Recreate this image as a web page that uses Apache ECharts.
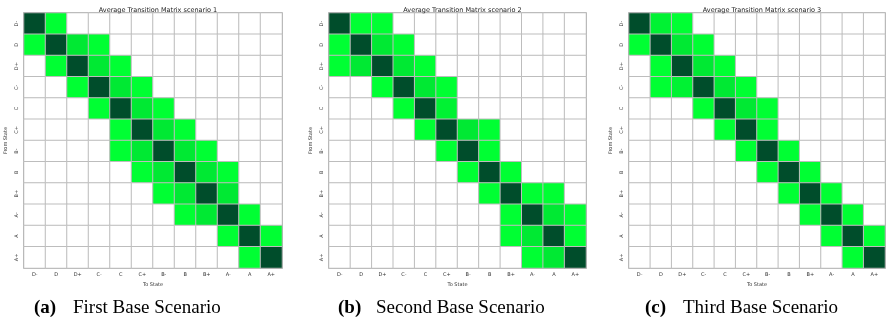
<!DOCTYPE html>
<html>
<head>
<meta charset="utf-8">
<script src="https://cdn.jsdelivr.net/npm/echarts@6/dist/echarts.min.js"></script>
<style>
  html, body { margin: 0; padding: 0; background: #fff; }
  #chart { width: 886px; height: 320px; }
</style>
</head>
<body>
<div id="chart"></div>
<script>
// rating states, rows = from, cols = to
const states = ['D-', 'D', 'D+', 'C-', 'C', 'C+', 'B-', 'B', 'B+', 'A-', 'A', 'A+']

// average transition probabilities (estimated from cell shades)
const matrix1 = [
  [0.80, 0.05, 0, 0, 0, 0, 0, 0, 0, 0, 0, 0],
  [0.05, 0.80, 0.12, 0.05, 0, 0, 0, 0, 0, 0, 0, 0],
  [0, 0.05, 0.80, 0.12, 0.05, 0, 0, 0, 0, 0, 0, 0],
  [0, 0, 0.05, 0.80, 0.12, 0.05, 0, 0, 0, 0, 0, 0],
  [0, 0, 0, 0.05, 0.80, 0.12, 0.05, 0, 0, 0, 0, 0],
  [0, 0, 0, 0, 0.05, 0.80, 0.12, 0.05, 0, 0, 0, 0],
  [0, 0, 0, 0, 0.05, 0.12, 0.80, 0.12, 0.05, 0, 0, 0],
  [0, 0, 0, 0, 0, 0.05, 0.12, 0.80, 0.12, 0.05, 0, 0],
  [0, 0, 0, 0, 0, 0, 0.05, 0.12, 0.80, 0.12, 0, 0],
  [0, 0, 0, 0, 0, 0, 0, 0.05, 0.12, 0.80, 0.05, 0],
  [0, 0, 0, 0, 0, 0, 0, 0, 0, 0.05, 0.80, 0.05],
  [0, 0, 0, 0, 0, 0, 0, 0, 0, 0, 0.05, 0.80]
]
const matrix2 = [
  [0.80, 0.05, 0.05, 0, 0, 0, 0, 0, 0, 0, 0, 0],
  [0.05, 0.80, 0.12, 0.05, 0, 0, 0, 0, 0, 0, 0, 0],
  [0.05, 0.12, 0.80, 0.12, 0.05, 0, 0, 0, 0, 0, 0, 0],
  [0, 0, 0.05, 0.80, 0.12, 0.05, 0, 0, 0, 0, 0, 0],
  [0, 0, 0, 0.05, 0.80, 0.08, 0, 0, 0, 0, 0, 0],
  [0, 0, 0, 0, 0.05, 0.80, 0.12, 0.05, 0, 0, 0, 0],
  [0, 0, 0, 0, 0, 0.05, 0.80, 0.05, 0, 0, 0, 0],
  [0, 0, 0, 0, 0, 0, 0.05, 0.80, 0.05, 0, 0, 0],
  [0, 0, 0, 0, 0, 0, 0, 0.05, 0.80, 0.05, 0.05, 0],
  [0, 0, 0, 0, 0, 0, 0, 0, 0.05, 0.80, 0.12, 0.05],
  [0, 0, 0, 0, 0, 0, 0, 0, 0.05, 0.12, 0.80, 0.05],
  [0, 0, 0, 0, 0, 0, 0, 0, 0, 0.05, 0.12, 0.80]
]
const matrix3 = [
  [0.80, 0.08, 0.05, 0, 0, 0, 0, 0, 0, 0, 0, 0],
  [0.05, 0.80, 0.12, 0.05, 0, 0, 0, 0, 0, 0, 0, 0],
  [0, 0.05, 0.80, 0.12, 0.05, 0, 0, 0, 0, 0, 0, 0],
  [0, 0.05, 0.08, 0.80, 0.12, 0.05, 0, 0, 0, 0, 0, 0],
  [0, 0, 0, 0.05, 0.80, 0.12, 0.05, 0, 0, 0, 0, 0],
  [0, 0, 0, 0, 0.05, 0.80, 0.05, 0, 0, 0, 0, 0],
  [0, 0, 0, 0, 0, 0.05, 0.80, 0.05, 0, 0, 0, 0],
  [0, 0, 0, 0, 0, 0, 0.05, 0.80, 0.05, 0, 0, 0],
  [0, 0, 0, 0, 0, 0, 0, 0.05, 0.80, 0.05, 0, 0],
  [0, 0, 0, 0, 0, 0, 0, 0, 0.05, 0.80, 0.05, 0],
  [0, 0, 0, 0, 0, 0, 0, 0, 0, 0.05, 0.80, 0.05],
  [0, 0, 0, 0, 0, 0, 0, 0, 0, 0, 0.05, 0.80]
]

const titles = ['Average Transition Matrix scenario 1', 'Average Transition Matrix scenario 2', 'Average Transition Matrix scenario 3']
const captionTags = ['(a)', '(b)', '(c)']
const captions = ['First Base Scenario', 'Second Base Scenario', 'Third Base Scenario']

const chart = echarts.init(document.getElementById('chart'))

// panel layout
const panels = [
  { left: 24, width: 258, tagX: 34, capX: 73 },
  { left: 329, width: 257, tagX: 338, capX: 376 },
  { left: 629, width: 256, tagX: 645, capX: 683 }
]
const gridTop = 13
const gridHeight = 255
const smallFont = 'DejaVu Sans'

const toCells = (m) => {
  const cells = []
  m.forEach((row, r) => {
    row.forEach((v, c) => {
      cells.push([c, r, v])
    })
  })
  return cells
}
const mats = [matrix1, matrix2, matrix3]

const option = {
  animation: false,
  title: panels.map((p, i) => ({
    text: titles[i],
    left: p.left + p.width / 2,
    top: 2,
    textAlign: 'center',
    textStyle: { fontFamily: smallFont, fontSize: 6.5, fontWeight: 'normal', color: '#222' }
  })),
  grid: panels.map((p) => ({
    left: p.left,
    top: gridTop,
    width: p.width,
    height: gridHeight,
    show: true,
    borderColor: '#555',
    borderWidth: 1.2,
    backgroundColor: '#fff'
  })),
  xAxis: panels.map((p, i) => ({
    type: 'category',
    gridIndex: i,
    data: states,
    name: 'To State',
    nameLocation: 'middle',
    nameGap: 14,
    nameTextStyle: { fontFamily: smallFont, fontSize: 5, color: '#333' },
    axisLine: { show: false },
    axisTick: { alignWithLabel: true, length: 3, lineStyle: { color: '#444' } },
    axisLabel: { fontFamily: smallFont, fontSize: 5, color: '#333', margin: 4, interval: 0 },
    splitLine: { show: false }
  })),
  yAxis: panels.map((p, i) => ({
    type: 'category',
    gridIndex: i,
    data: states,
    inverse: true,
    name: 'From State',
    nameLocation: 'middle',
    nameGap: 16,
    nameTextStyle: { fontFamily: smallFont, fontSize: 5, color: '#333' },
    axisLine: { show: false },
    axisTick: { alignWithLabel: true, length: 3, lineStyle: { color: '#444' } },
    axisLabel: { fontFamily: smallFont, fontSize: 5, color: '#333', rotate: 90, margin: 5, interval: 0 },
    splitLine: { show: false }
  })),
  visualMap: {
    type: 'piecewise',
    show: false,
    seriesIndex: [0, 1, 2],
    pieces: [
      { lte: 0, color: '#ffffff' },
      { gt: 0, lte: 0.06, color: '#00ff33' },
      { gt: 0.06, lte: 0.1, color: '#00f233' },
      { gt: 0.1, lte: 0.5, color: '#00e933' },
      { gt: 0.5, color: '#004d2b' }
    ]
  },
  series: mats.map((m, i) => ({
    type: 'heatmap',
    xAxisIndex: i,
    yAxisIndex: i,
    data: toCells(m),
    itemStyle: { borderColor: '#bdbdbd', borderWidth: 1 },
    emphasis: { disabled: true }
  })),
  graphic: panels.flatMap((p, i) => [
    {
      type: 'text',
      left: p.tagX,
      top: 299,
      style: { text: captionTags[i], font: 'bold 19px "Liberation Serif"', fill: '#000' }
    },
    {
      type: 'text',
      left: p.capX,
      top: 299,
      style: { text: captions[i], font: '19px "Liberation Serif"', fill: '#000' }
    }
  ])
}

chart.setOption(option)
window.addEventListener('resize', () => chart.resize())
</script>
</body>
</html>
